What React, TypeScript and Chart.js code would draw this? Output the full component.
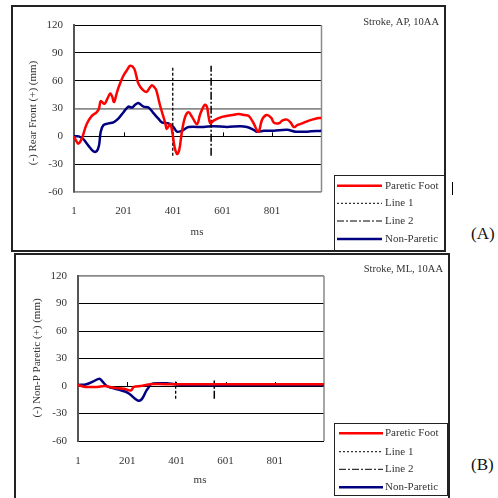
import React, { useEffect, useRef } from "react";
import { Chart, registerables } from "chart.js";
Chart.register(...registerables);

// ---------- data ----------
const xTickValues = [1, 201, 401, 601, 801];
const yMin = -60;
const yMax = 120;
const yStep = 30;

// Panel A: Stroke, AP, 10AA
const apPareticMs = [1, 10, 18, 28, 36, 52, 73, 93, 102, 109, 124, 135, 147, 155, 163, 175, 187, 200, 214, 228, 244, 252, 261, 279, 295, 306, 316, 325, 333, 349, 370, 376, 390, 399, 407, 417, 426, 437, 450, 464, 478, 498, 511, 529, 538, 545, 552, 565, 599, 640, 666, 690, 707, 727, 741, 748, 761, 779, 798, 808, 829, 842, 862, 876, 889, 903, 923, 950, 977, 1001];
const apPareticMm = [0, -5, -8, -5, 0, 13, 22, 26, 30, 38, 35, 40, 46, 43, 37, 48, 57, 65, 71, 76, 73, 66, 57, 50, 48, 52, 55, 53, 50, 33, 14, 8, 13, 3, -11, -19, -15, 5, 21, 26, 21, 13, 24, 34, 32, 21, 14, 17, 21, 23, 24, 23, 22, 14, 6, 5, 18, 23, 20, 15, 14, 17, 18, 15, 10, 12, 14, 17, 19, 20];
const apNonPareticMs = [1, 20, 39, 59, 79, 93, 102, 109, 120, 140, 160, 180, 201, 221, 235, 248, 261, 282, 302, 322, 342, 356, 383, 403, 417, 437, 464, 525, 565, 619, 673, 700, 727, 741, 768, 808, 862, 896, 943, 1001];
const apNonPareticMm = [0, 0, -3, -10, -16, -16, -10, 5, 12, 14, 15, 19, 26, 32, 31, 34, 36, 32, 31, 25, 19, 15, 14, 10, 5, 6, 10, 10, 11, 10, 11, 10, 7, 5, 6, 6, 7, 5, 5, 6];
const apLine1Ms = [400, 400];
const apLine1Mm = [-21, 76];
const apLine2Ms = [555, 555];
const apLine2Mm = [-21, 76];

// Panel B: Stroke, ML, 10AA
const mlPareticMs = [1, 30, 80, 110, 147, 188, 215, 228, 256, 297, 350, 450, 600, 800, 1001];
const mlPareticMm = [1, -1, -1, 0, -2, -3, -5, -1, 0, 2, 2, 2, 2, 2, 2];
const mlNonPareticMs = [1, 36, 63, 88, 100, 118, 138, 165, 192, 212, 233, 246, 258, 268, 277, 287, 297, 334, 362, 395, 450, 600, 800, 1001];
const mlNonPareticMm = [1, 2, 5, 8, 5, 0, -2, -4, -6, -9, -14, -16, -15, -11, -6, -2, 2, 3, 3, 2, 1, 1, 1, 1];
const mlLine1Ms = [398, 398];
const mlLine1Mm = [-14, 5];
const mlLine2Ms = [555, 555];
const mlLine2Mm = [-14, 6];

const legendLabels = ["Paretic Foot", "Line 1", "Line 2", "Non-Paretic"];

// ---------- styling ----------
const FONT = "'Liberation Serif', 'Times New Roman', serif";
const RED = "#FF0000";
const NAVY = "#000080";
const DASH1 = [2, 2];
const DASH2 = [7, 2, 2, 2];

const pts = (xs: number[], ys: number[]) => xs.map((x, i) => ({ x, y: ys[i] }));

type PanelSpec = {
  title: string;
  yTitle: string;
  canvas: { left: number; top: number; w: number; h: number };
  plot: { left: number; top: number; right: number; bottom: number };
  greyValues: number[];
  xLabelPad: number;
  titlePos: { x: number; y: number };
  yTitlePos: { x: number; y: number };
  msPos: { x: number; y: number };
  legend: { x0: number; y0: number; x1: number; y1: number; rows: number[]; sx0: number; sx1: number; tx: number };
  paretic: { x: number[]; y: number[] };
  nonParetic: { x: number[]; y: number[] };
  line1: { x: number[]; y: number[] };
  line2: { x: number[]; y: number[] };
};

const panels: PanelSpec[] = [
  {
    title: "Stroke, AP, 10AA",
    yTitle: "(-) Rear Front (+) (mm)",
    canvas: { left: 12, top: 6, w: 433, h: 245 },
    plot: { left: 62, top: 19, right: 309.5, bottom: 186 },
    greyValues: [30, -60],
    xLabelPad: 13,
    titlePos: { x: 427, y: 16 },
    yTitlePos: { x: 21, y: 107 },
    msPos: { x: 185, y: 226 },
    legend: { x0: 322, y0: 169, x1: 433, y1: 245, rows: [179.7, 197.3, 215, 233], sx0: 325, sx1: 370, tx: 373 },
    paretic: { x: apPareticMs, y: apPareticMm },
    nonParetic: { x: apNonPareticMs, y: apNonPareticMm },
    line1: { x: apLine1Ms, y: apLine1Mm },
    line2: { x: apLine2Ms, y: apLine2Mm },
  },
  {
    title: "Stroke, ML, 10AA",
    yTitle: "(-) Non-P Paretic (+) (mm)",
    canvas: { left: 15, top: 254, w: 434, h: 244 },
    plot: { left: 63, top: 22, right: 309, bottom: 187 },
    greyValues: [120],
    xLabelPad: 14,
    titlePos: { x: 428, y: 15.3 },
    yTitlePos: { x: 22, y: 104 },
    msPos: { x: 185, y: 226 },
    legend: { x0: 319, y0: 169, x1: 433, y1: 242, rows: [179.3, 197.7, 215.3, 233.3], sx0: 324, sx1: 368, tx: 370 },
    paretic: { x: mlPareticMs, y: mlPareticMm },
    nonParetic: { x: mlNonPareticMs, y: mlNonPareticMm },
    line1: { x: mlLine1Ms, y: mlLine1Mm },
    line2: { x: mlLine2Ms, y: mlLine2Mm },
  },
];

function makeDecor(p: PanelSpec) {
  return {
    id: "panelDecor",
    beforeDatasetsDraw(chart: any) {
      const { ctx, chartArea: a, scales } = chart;
      ctx.save();
      ctx.strokeStyle = "#8a8a8a";
      ctx.lineWidth = 1.5;
      ctx.beginPath();
      ctx.moveTo(a.right, a.top);
      ctx.lineTo(a.right, a.bottom);
      ctx.stroke();
      const y0 = scales.y.getPixelForValue(0);
      ctx.strokeStyle = "#000";
      ctx.lineWidth = 1;
      ctx.beginPath();
      for (const v of xTickValues.slice(1)) {
        const x = Math.round(scales.x.getPixelForValue(v)) + 0.5;
        ctx.moveTo(x, y0);
        ctx.lineTo(x, y0 - 4);
      }
      ctx.stroke();
      ctx.restore();
    },
    afterDraw(chart: any) {
      const { ctx } = chart;
      ctx.save();
      ctx.fillStyle = "#333";
      ctx.font = `10.5px ${FONT}`;
      ctx.textAlign = "right";
      ctx.textBaseline = "middle";
      ctx.fillText(p.title, p.titlePos.x, p.titlePos.y);

      ctx.font = `11px ${FONT}`;
      ctx.textAlign = "center";
      ctx.fillText("ms", p.msPos.x, p.msPos.y);

      ctx.save();
      ctx.translate(p.yTitlePos.x, p.yTitlePos.y);
      ctx.rotate(-Math.PI / 2);
      ctx.fillText(p.yTitle, 0, 0);
      ctx.restore();

      // legend
      const L = p.legend;
      ctx.fillStyle = "#fff";
      ctx.fillRect(L.x0, L.y0, L.x1 - L.x0, L.y1 - L.y0);
      ctx.strokeStyle = "#222";
      ctx.lineWidth = 1;
      ctx.strokeRect(L.x0 + 0.5, L.y0 + 0.5, L.x1 - L.x0 - 1, L.y1 - L.y0 - 1);
      const styles = [
        { c: RED, d: [] as number[], w: 2.5 },
        { c: "#000", d: DASH1, w: 1 },
        { c: "#000", d: DASH2, w: 1 },
        { c: NAVY, d: [] as number[], w: 2.5 },
      ];
      legendLabels.forEach((lab, i) => {
        const y = L.rows[i];
        ctx.strokeStyle = styles[i].c;
        ctx.lineWidth = styles[i].w;
        ctx.setLineDash(styles[i].d);
        ctx.beginPath();
        ctx.moveTo(L.sx0, y);
        ctx.lineTo(L.sx1, y);
        ctx.stroke();
        ctx.setLineDash([]);
        ctx.fillStyle = "#333";
        ctx.font = `11px ${FONT}`;
        ctx.textAlign = "left";
        ctx.textBaseline = "middle";
        ctx.fillText(lab, L.tx, y);
      });
      ctx.restore();
    },
  };
}

function Panel({ p }: { p: PanelSpec }) {
  const ref = useRef<HTMLCanvasElement | null>(null);
  useEffect(() => {
    if (!ref.current) return;
    const { w, h } = p.canvas;
    const chart = new Chart(ref.current, {
      type: "line",
      data: {
        datasets: [
          { label: "Paretic Foot", data: pts(p.paretic.x, p.paretic.y), borderColor: RED, borderWidth: 2.5, tension: 0.35 },
          { label: "Line 1", data: pts(p.line1.x, p.line1.y), borderColor: "#000", borderWidth: 1.3, borderDash: [3, 2], tension: 0 },
          { label: "Line 2", data: pts(p.line2.x, p.line2.y), borderColor: "#000", borderWidth: 1.5, borderDash: [8, 2, 2, 2], tension: 0 },
          { label: "Non-Paretic", data: pts(p.nonParetic.x, p.nonParetic.y), borderColor: NAVY, borderWidth: 2.5, tension: 0.35 },
        ] as any,
      },
      options: {
        responsive: false,
        animation: false,
        devicePixelRatio: 1,
        events: [],
        elements: { point: { radius: 0 } },
        layout: { padding: { left: 0, top: p.plot.top, right: w - p.plot.right, bottom: 0 } },
        plugins: { legend: { display: false }, tooltip: { enabled: false }, title: { display: false } },
        scales: {
          x: {
            type: "linear",
            min: 1,
            max: 1001,
            afterBuildTicks: (s: any) => {
              s.ticks = xTickValues.map((v) => ({ value: v }));
            },
            afterFit: (s: any) => {
              s.height = h - p.plot.bottom;
            },
            grid: { display: false, drawTicks: false },
            border: { display: false },
            ticks: {
              autoSkip: false,
              maxRotation: 0,
              padding: p.xLabelPad,
              color: "#333",
              font: { family: FONT, size: 11 },
              callback: (v: any) => String(v),
            },
          },
          y: {
            type: "linear",
            min: yMin,
            max: yMax,
            afterFit: (s: any) => {
              s.width = p.plot.left;
            },
            grid: {
              drawTicks: false,
              color: (c: any) => (p.greyValues.includes(c.tick?.value) ? "#8a8a8a" : "#000"),
              lineWidth: (c: any) => (p.greyValues.includes(c.tick?.value) ? 1.8 : 1),
            },
            border: { display: true, color: "#555", width: 2 },
            ticks: {
              stepSize: yStep,
              padding: 11,
              color: "#333",
              font: { family: FONT, size: 11 },
            },
          },
        },
      } as any,
      plugins: [makeDecor(p)],
    });
    return () => chart.destroy();
  }, [p]);
  const c = p.canvas;
  return (
    <canvas
      ref={ref}
      width={c.w}
      height={c.h}
      style={{ position: "absolute", left: c.left, top: c.top, width: c.w, height: c.h }}
    />
  );
}

export default function App() {
  return (
    <div
      style={{
        position: "fixed",
        left: 0,
        top: 0,
        width: 498,
        height: 498,
        overflow: "hidden",
        background: "#fff",
        fontFamily: FONT,
      }}
    >
      <div style={{ position: "absolute", left: 11, top: 5, width: 435, height: 247, boxSizing: "border-box", border: "2px solid #222" }} />
      <div style={{ position: "absolute", left: 14, top: 253, width: 436, height: 260, boxSizing: "border-box", border: "2px solid #222" }} />
      <Panel p={panels[0]} />
      <Panel p={panels[1]} />
      <div style={{ position: "absolute", left: 452, top: 182, width: 1, height: 13, background: "#000" }} />
      <div style={{ position: "absolute", left: 471, top: 224, fontSize: 17, lineHeight: "20px", color: "#111" }}>(A)</div>
      <div style={{ position: "absolute", left: 471, top: 455, fontSize: 17, lineHeight: "20px", color: "#111" }}>(B)</div>
    </div>
  );
}
